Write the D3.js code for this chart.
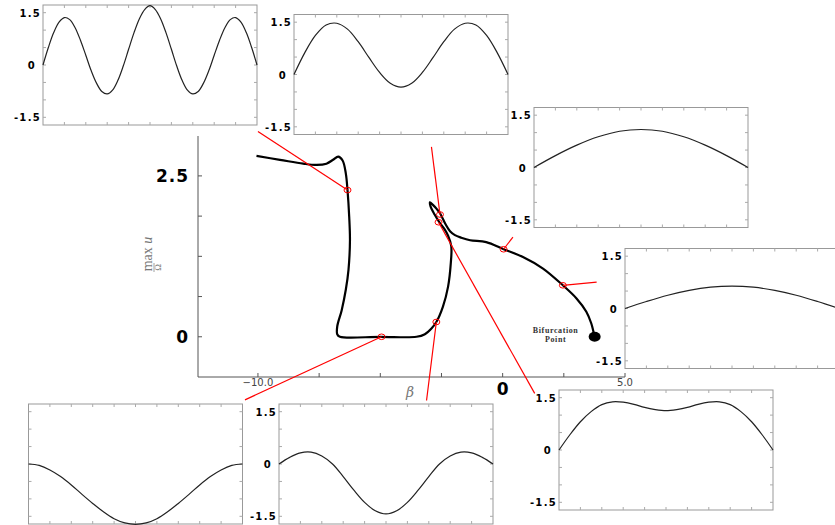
<!DOCTYPE html>
<html>
<head>
<meta charset="utf-8">
<script src="https://cdn.jsdelivr.net/npm/d3@7"></script>
<style>
  body { margin: 0; background: #fff; }
  svg { display: block; }
</style>
</head>
<body>
<script>
// bifurcation branch (beta, max u / Omega)
const branchBeta = [-10.06, -9.10, -8.15, -7.60, -7.20, -6.93, -6.72, -6.54, -6.41, -6.34, -6.27, -6.24, -6.30, -6.41, -6.58, -6.76, -6.76, -6.65,
  -5.0, -3.52, -3.18, -2.91, -2.71, -2.44, -2.23, -2.12, -2.10, -2.23, -2.37, -2.57, -2.78, -2.95, -2.97, -2.85, -2.68, -2.56, -2.44, -2.32,
  -2.15, -1.95, -1.69, -1.33, -0.67, 0.04, 0.83, 1.65, 2.46, 3.01, 3.42, 3.62, 3.71, 3.76];
const branchMax = [2.81, 2.75, 2.69, 2.67, 2.69, 2.75, 2.80, 2.74, 2.54, 2.28, 1.86, 1.50, 1.04, 0.73, 0.41, 0.16, 0.04, 0.0,
  0.0, 0.0, 0.04, 0.13, 0.23, 0.47, 0.78, 1.14, 1.41, 1.57, 1.67, 1.77, 1.90, 2.03, 2.09, 2.05, 1.98, 1.92, 1.83, 1.74,
  1.64, 1.58, 1.54, 1.50, 1.47, 1.36, 1.24, 1.06, 0.80, 0.60, 0.39, 0.21, 0.08, 0.01];

// sampled solutions marked on the branch, and where their leader lines end
const markerBeta = [-6.34, -4.95, -2.71, -2.56, -2.62, 0.04, 2.46];
const markerMax = [2.28, 0.0, 0.23, 1.90, 1.78, 1.36, 0.80];
const leaderBeta = [-10.0, -10.53, -3.11, -2.91, 1.31, 0.42, 3.84];
const leaderMax = [3.19, -0.98, -0.99, 2.95, -0.88, 1.55, 0.85];

const bifurcation = { beta: 3.76, max: 0.0 };

const xTicks = [-10, -7.5, -5, -2.5, 0, 2.5, 5];
const yTicks = [0, 0.625, 1.25, 1.875, 2.5];
const xTickLabels = ["\u221210.0", "", "", "", "0", "", "5.0"];
const yTickLabels = ["0", "", "", "", "2.5"];

// profiles u(x) of the sampled solutions
const profileA = [0, 0.50, 0.93, 1.23, 1.36, 1.30, 1.07, 0.71, 0.28, -0.16, -0.52, -0.76, -0.83, -0.72, -0.44, -0.03, 0.45, 0.92, 1.32, 1.59, 1.70,
  1.59, 1.32, 0.92, 0.45, -0.03, -0.44, -0.72, -0.83, -0.76, -0.52, -0.16, 0.28, 0.71, 1.07, 1.30, 1.36, 1.23, 0.93, 0.50, 0];
const profileB = [0, 0.62, 1.12, 1.42, 1.47, 1.30, 0.94, 0.49, 0.06, -0.25, -0.36, -0.25, 0.06, 0.49, 0.94, 1.30, 1.47, 1.42, 1.12, 0.62, 0];
const profileC = [0, 0.34, 0.64, 0.88, 1.04, 1.09, 1.04, 0.88, 0.64, 0.34, 0];
const profileD = [0, 0.20, 0.38, 0.52, 0.61, 0.64, 0.61, 0.52, 0.38, 0.20, 0];
const profileE = [0, -0.04, -0.17, -0.36, -0.60, -0.87, -1.13, -1.37, -1.57, -1.69, -1.73, -1.69, -1.57, -1.37, -1.13, -0.87, -0.60, -0.36, -0.17, -0.04, 0];
const profileF = [0, 0.19, 0.32, 0.34, 0.23, 0, -0.36, -0.75, -1.10, -1.34, -1.43, -1.34, -1.10, -0.75, -0.36, 0, 0.23, 0.34, 0.32, 0.19, 0];
const profileG = [0, 0.43, 0.81, 1.10, 1.30, 1.38, 1.37, 1.31, 1.22, 1.16, 1.13, 1.16, 1.22, 1.31, 1.37, 1.38, 1.30, 1.10, 0.81, 0.43, 0];
const insetTicks = [1.5, 0, -1.5];

const w = 835;
const h = 525;

const svg = d3.select("body")
  .append("svg")
  .attr("width", w)
  .attr("height", h);

const x = d3.scaleLinear().domain([-12.45, 5]).range([198, 625]);
const y = d3.scaleLinear().domain([-0.625, 3.12]).range([377, 136]);

// axes
svg.append("line")
  .attr("x1", x.range()[0]).attr("x2", x.range()[0])
  .attr("y1", y.range()[0]).attr("y2", y.range()[1])
  .attr("stroke", "#555").attr("stroke-width", 1);
svg.append("line")
  .attr("x1", x.range()[0]).attr("x2", x.range()[1])
  .attr("y1", y.range()[0]).attr("y2", y.range()[0])
  .attr("stroke", "#555").attr("stroke-width", 1);

svg.selectAll(".xtick")
  .data(xTicks)
  .enter()
  .append("line")
  .attr("class", "xtick")
  .attr("x1", (d) => x(d)).attr("x2", (d) => x(d))
  .attr("y1", y.range()[0]).attr("y2", y.range()[0] - 4)
  .attr("stroke", "#555");

svg.selectAll(".ytick")
  .data(yTicks)
  .enter()
  .append("line")
  .attr("class", "ytick")
  .attr("x1", x.range()[0]).attr("x2", x.range()[0] + 4)
  .attr("y1", (d) => y(d)).attr("y2", (d) => y(d))
  .attr("stroke", "#555");

svg.selectAll(".xlabel")
  .data(xTicks)
  .enter()
  .append("text")
  .attr("class", "xlabel")
  .attr("x", (d) => x(d))
  .attr("y", (d, i) => xTickLabels[i] === "0" ? 395 : 386)
  .attr("text-anchor", "middle")
  .style("font-family", "DejaVu Sans, sans-serif")
  .style("font-size", (d, i) => xTickLabels[i] === "0" ? "17px" : "10px")
  .style("font-weight", (d, i) => xTickLabels[i] === "0" ? "bold" : "normal")
  .style("fill", (d, i) => xTickLabels[i] === "0" ? "#000" : "#444")
  .text((d, i) => xTickLabels[i]);

svg.selectAll(".ylabel")
  .data(yTicks)
  .enter()
  .append("text")
  .attr("class", "ylabel")
  .attr("x", 189)
  .attr("y", (d) => y(d) + 6)
  .attr("text-anchor", "end")
  .style("font-family", "DejaVu Sans, sans-serif")
  .style("font-size", "17px")
  .style("font-weight", "bold")
  .style("letter-spacing", "1px")
  .text((d, i) => yTickLabels[i]);

svg.append("text")
  .attr("x", 410)
  .attr("y", 397)
  .attr("text-anchor", "middle")
  .style("font-family", "DejaVu Serif, serif")
  .style("font-style", "italic")
  .style("font-size", "14px")
  .style("fill", "#777")
  .text("\u03b2");

const yTitle = svg.append("g")
  .attr("transform", "translate(152,254) rotate(-90)")
  .style("font-family", "Liberation Serif, serif")
  .style("fill", "#777");
yTitle.append("text")
  .attr("x", 0)
  .attr("y", 0)
  .attr("text-anchor", "middle")
  .style("font-size", "14px")
  .html('max <tspan font-style="italic">u</tspan>');
yTitle.append("text")
  .attr("x", -13.5)
  .attr("y", 8.5)
  .attr("text-anchor", "middle")
  .style("font-size", "9px")
  .text("\u03a9");
yTitle.append("line")
  .attr("x1", -9).attr("x2", -18)
  .attr("y1", 2).attr("y2", 2)
  .attr("stroke", "#888").attr("stroke-width", 0.8);

// branch curve
const branch = branchBeta.map((b, i) => [b, branchMax[i]]);
svg.append("path")
  .datum(branch)
  .attr("d", d3.line()
    .x((d) => x(d[0]))
    .y((d) => y(d[1]))
    .curve(d3.curveCatmullRom.alpha(0.5)))
  .attr("fill", "none")
  .attr("stroke", "#000")
  .attr("stroke-width", 2.2)
  .attr("stroke-linejoin", "round");

svg.append("ellipse")
  .attr("cx", x(bifurcation.beta))
  .attr("cy", y(bifurcation.max))
  .attr("rx", 6)
  .attr("ry", 5)
  .attr("fill", "#000");

const bifText = svg.append("text")
  .attr("x", x(bifurcation.beta) - 39)
  .attr("y", y(bifurcation.max) - 4)
  .attr("text-anchor", "middle")
  .style("font-family", "Liberation Serif, serif")
  .style("font-weight", "bold")
  .style("font-size", "8px")
  .style("letter-spacing", "0.6px")
  .style("fill", "#333");
bifText.append("tspan").text("Bifurcation");
bifText.append("tspan")
  .attr("x", x(bifurcation.beta) - 39)
  .attr("dy", 9.3)
  .text("Point");

// leader lines and markers
svg.selectAll(".leader")
  .data(markerBeta)
  .enter()
  .append("line")
  .attr("class", "leader")
  .attr("x1", (d) => x(d))
  .attr("y1", (d, i) => y(markerMax[i]))
  .attr("x2", (d, i) => x(leaderBeta[i]))
  .attr("y2", (d, i) => y(leaderMax[i]))
  .attr("stroke", "#f00")
  .attr("stroke-width", 1.2);

svg.selectAll(".marker")
  .data(markerBeta)
  .enter()
  .append("ellipse")
  .attr("class", "marker")
  .attr("cx", (d) => x(d))
  .attr("cy", (d, i) => y(markerMax[i]))
  .attr("rx", 3.5)
  .attr("ry", 2.8)
  .attr("fill", "none")
  .attr("stroke", "#f00")
  .attr("stroke-width", 1);

// inset panels
const insets = [
  { values: profileA, left: 43, top: 5, labels: true },
  { values: profileB, left: 294, top: 14.5, labels: true },
  { values: profileC, left: 534, top: 107.5, labels: true },
  { values: profileD, left: 625, top: 248.5, labels: true },
  { values: profileE, left: 28.5, top: 404, labels: false },
  { values: profileF, left: 279, top: 404, labels: true },
  { values: profileG, left: 559, top: 390, labels: true }
];
const insetW = 214;
const insetH = 120;

insets.forEach((p) => {
  const g = svg.append("g").attr("transform", `translate(${p.left},${p.top})`);
  const ix = d3.scaleLinear().domain([0, 1]).range([0, insetW]);
  const iy = d3.scaleLinear().domain([-1.72, 1.72]).range([insetH, 0]);

  g.append("rect")
    .attr("width", insetW)
    .attr("height", insetH)
    .attr("fill", "#fff")
    .attr("stroke", "#999")
    .attr("stroke-width", 1);

  const tx = d3.range(1, 10).map((i) => i / 10);
  const ty = d3.range(-1.5, 1.51, 0.5);
  g.selectAll(".tx")
    .data(tx)
    .enter()
    .append("path")
    .attr("d", (d) => `M${ix(d)},0v3M${ix(d)},${insetH}v-3`)
    .attr("stroke", "#aaa");
  g.selectAll(".ty")
    .data(ty)
    .enter()
    .append("path")
    .attr("d", (d) => `M0,${iy(d)}h3M${insetW},${iy(d)}h-3`)
    .attr("stroke", "#aaa");

  const n = p.values.length - 1;
  g.append("path")
    .datum(p.values)
    .attr("d", d3.line()
      .x((d, i) => ix(i / n))
      .y((d) => iy(d))
      .curve(d3.curveCatmullRom.alpha(0.5)))
    .attr("fill", "none")
    .attr("stroke", "#222")
    .attr("stroke-width", 1.2);

  if (p.labels) {
    g.selectAll(".lab")
      .data(insetTicks)
      .enter()
      .append("text")
      .attr("x", (d) => d === 0 ? -7 : -2)
      .attr("y", (d) => iy(d) + 4)
      .attr("text-anchor", "end")
      .style("font-family", "DejaVu Sans, sans-serif")
      .style("font-weight", "bold")
      .style("font-size", "10px")
      .style("letter-spacing", "1.3px")
      .text((d) => d === 0 ? "0" : (d < 0 ? "-1.5" : "1.5"));
  }
});
</script>
</body>
</html>
